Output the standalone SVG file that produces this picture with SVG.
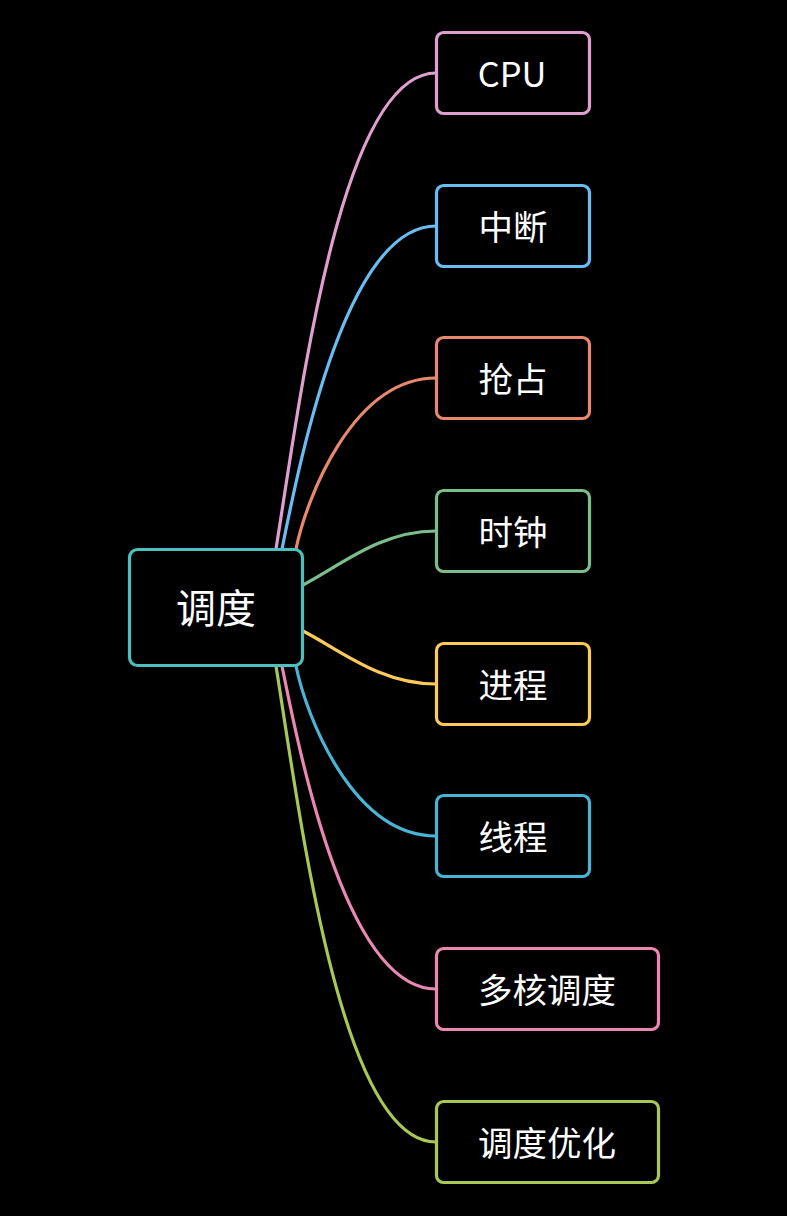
<svg xmlns="http://www.w3.org/2000/svg" width="787" height="1216" viewBox="0 0 787 1216">
<style>
.bg{fill:#000}
.box{fill:#000;stroke-width:3.2}
.ln{fill:none;stroke-width:3.2}
.t{fill:#fff;font-family:"Noto Sans CJK SC","Noto Sans",sans-serif;text-anchor:middle;dominant-baseline:central}
.c{font-size:40px}
.s{font-size:34.5px}
</style>
<rect class="bg" x="0" y="0" width="787" height="1216"/>
<g id="connectors">
<path class="ln" stroke="#dfa0cf" d="M276,549 C300,400 340,73 436,73"/>
<path class="ln" stroke="#69bdf2" d="M282,549 C302,449 348,226 436,226"/>
<path class="ln" stroke="#e8896d" d="M296,549 C306,500 352,378 436,378"/>
<path class="ln" stroke="#7cbe8b" d="M303,585 C340,566 380,531 436,531"/>
<path class="ln" stroke="#fecb58" d="M303,631 C340,650 380,684 436,684"/>
<path class="ln" stroke="#4ab4d6" d="M296,666 C306,715 352,836 436,836"/>
<path class="ln" stroke="#ea88b1" d="M282,666 C302,766 348,989 436,989"/>
<path class="ln" stroke="#a9c754" d="M276,666 C300,815 340,1142 436,1142"/>
</g>
<g id="root">
<rect class="box" stroke="#4cc0c0" x="129.5" y="549.5" width="173" height="116" rx="8"/>
<text class="t c" x="216" y="606">调度</text>
</g>
<g id="n-cpu">
<rect class="box" stroke="#dfa0cf" x="436.5" y="32.5" width="153" height="81" rx="7"/>
<text class="t s" x="512" y="72">CPU</text>
</g>
<g id="n-interrupt">
<rect class="box" stroke="#69bdf2" x="436.5" y="185.5" width="153" height="81" rx="7"/>
<text class="t s" x="513" y="225">中断</text>
</g>
<g id="n-preempt">
<rect class="box" stroke="#e8896d" x="436.5" y="337.5" width="153" height="81" rx="7"/>
<text class="t s" x="513" y="377">抢占</text>
</g>
<g id="n-clock">
<rect class="box" stroke="#7cbe8b" x="436.5" y="490.5" width="153" height="81" rx="7"/>
<text class="t s" x="513" y="530">时钟</text>
</g>
<g id="n-process">
<rect class="box" stroke="#fecb58" x="436.5" y="643.5" width="153" height="81" rx="7"/>
<text class="t s" x="513" y="683">进程</text>
</g>
<g id="n-thread">
<rect class="box" stroke="#4ab4d6" x="436.5" y="795.5" width="153" height="81" rx="7"/>
<text class="t s" x="513" y="835">线程</text>
</g>
<g id="n-multicore">
<rect class="box" stroke="#ea88b1" x="436.5" y="948.5" width="222" height="81" rx="7"/>
<text class="t s" x="547" y="988">多核调度</text>
</g>
<g id="n-optimize">
<rect class="box" stroke="#a9c754" x="436.5" y="1101.5" width="222" height="81" rx="7"/>
<text class="t s" x="547" y="1141">调度优化</text>
</g>
</svg>
